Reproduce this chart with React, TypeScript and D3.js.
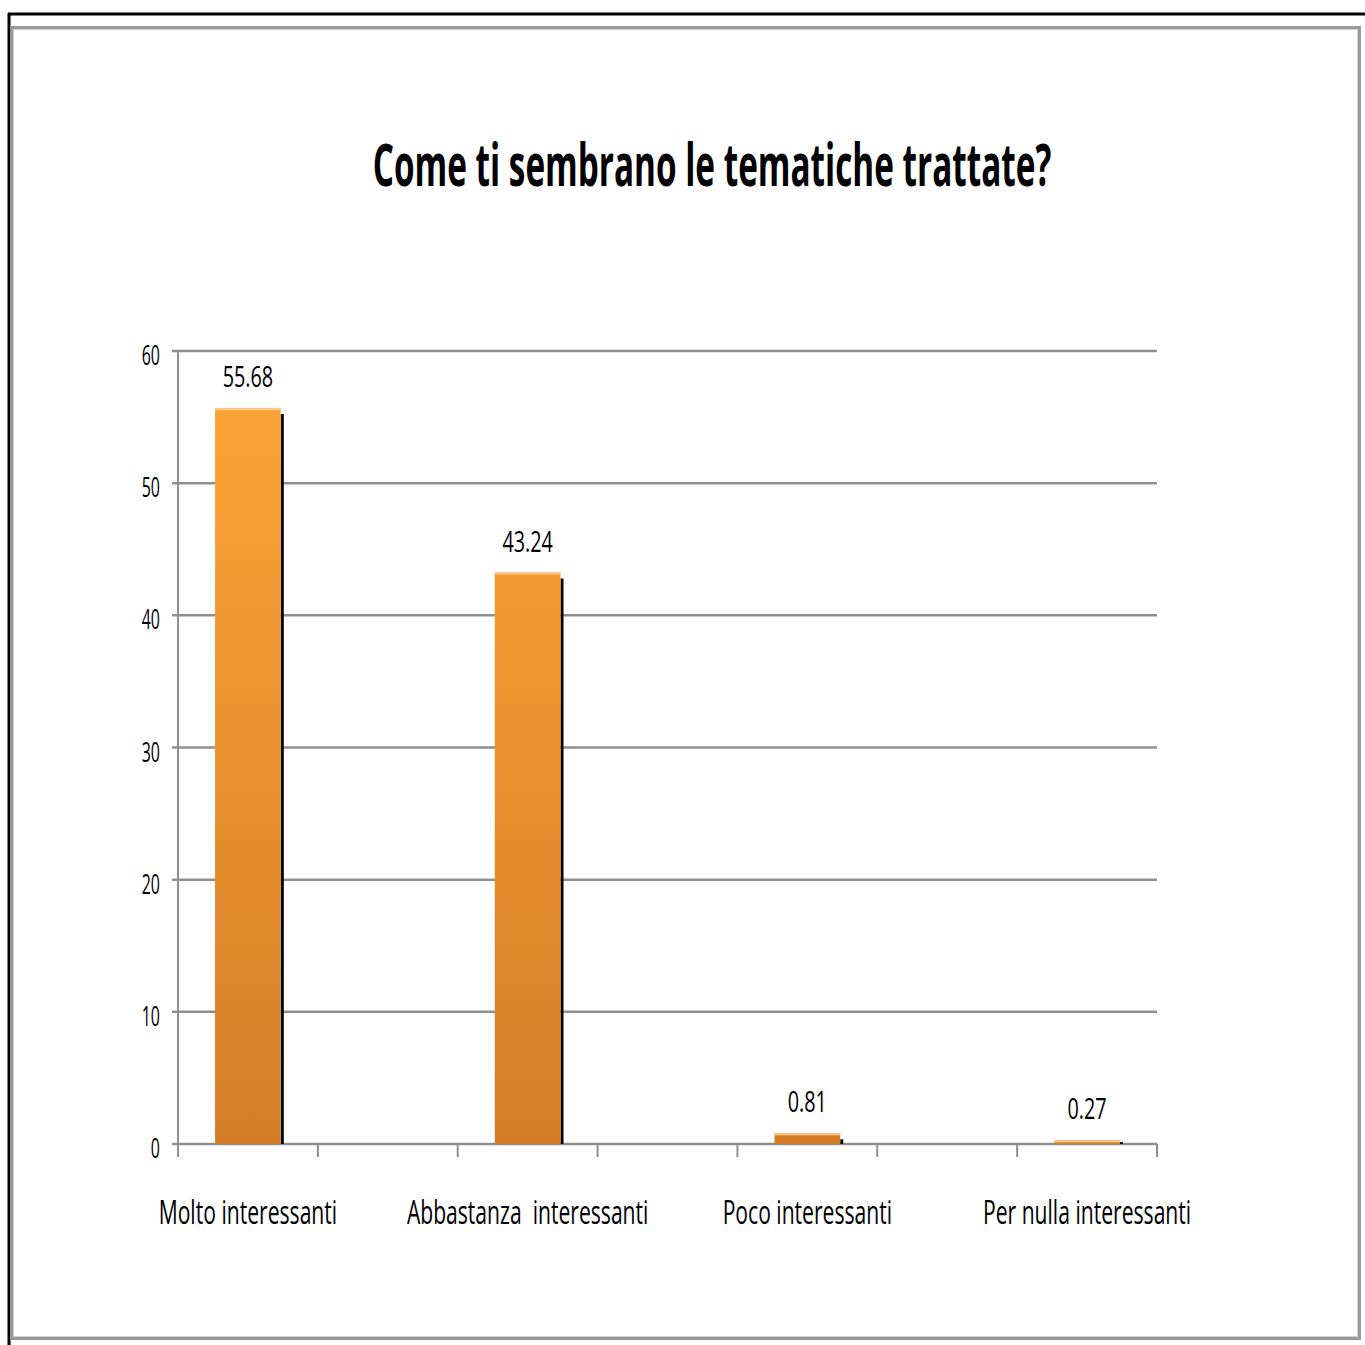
import React from "react";
import * as d3 from "d3";

const title = "Come ti sembrano le tematiche trattate?";
const categories = [
  "Molto interessanti",
  "Abbastanza  interessanti",
  "Poco interessanti",
  "Per nulla interessanti",
];
const values = [55.68, 43.24, 0.81, 0.27];
const yTicks = [0, 10, 20, 30, 40, 50, 60];

const W = 1365;
const H = 1345;
const FONT = "'Open Sans', 'DejaVu Sans', sans-serif";

export default function App() {
  // interleave an empty slot between consecutive categories
  const slots: string[] = [];
  categories.forEach((c, i) => {
    slots.push(c);
    if (i < categories.length - 1) slots.push(`__gap${i}`);
  });

  const x = d3.scaleBand<string>().domain(slots).range([178, 1157]).padding(0);
  const y = d3.scaleLinear().domain([0, 60]).range([1144, 351]);
  const bw = x.bandwidth() * 0.47;
  const fmt = d3.format(".2f");
  const boundaries = slots.map((s) => x(s) as number).concat([x.range()[1]]);

  const gridColor = "#8f8f8f";

  return (
    <svg
      width={W}
      height={H}
      style={{ position: "absolute", left: 0, top: 0, background: "#fff" }}
      xmlns="http://www.w3.org/2000/svg"
    >
      <defs>
        <linearGradient id="barGrad" x1="0" y1="0" x2="0" y2="1" gradientUnits="userSpaceOnUse"
          gradientTransform={`translate(0, ${y(60)}) scale(1, ${y(0) - y(60)})`}>
          <stop offset="0" stopColor="#ffa638" />
          <stop offset="1" stopColor="#d47d27" />
        </linearGradient>
      </defs>

      {/* outer black border (top/left) */}
      <line x1={8} y1={14} x2={W} y2={14} stroke="#000" strokeWidth={3} />
      <line x1={9} y1={13} x2={9} y2={H} stroke="#000" strokeWidth={3} />

      {/* gray frame */}
      <rect x={11.5} y={27.5} width={1348} height={1311} fill="#fff" stroke="#9a9a9a" strokeWidth={3} />
      <rect x={13.5} y={29.5} width={1344} height={1307} fill="none" stroke="#d0d0d0" strokeWidth={1} />

      {/* title */}
      <text
        transform={`translate(712, 186) scale(0.555, 1)`}
        textAnchor="middle"
        fontFamily={FONT}
        fontWeight={700}
        fontSize={60}
        fill="#000"
      >
        {title}
      </text>

      {/* gridlines */}
      {yTicks.map((t) => (
        <line
          key={`g${t}`}
          x1={172}
          x2={1157}
          y1={y(t)}
          y2={y(t)}
          stroke={gridColor}
          strokeWidth={2.5}
        />
      ))}

      {/* y axis */}
      <line x1={178} x2={178} y1={y(60)} y2={1157} stroke={gridColor} strokeWidth={2} />

      {/* x ticks */}
      {boundaries.slice(1).map((bx, i) => (
        <line key={`xt${i}`} x1={bx} x2={bx} y1={y(0)} y2={1157} stroke={gridColor} strokeWidth={2} />
      ))}

      {/* y tick labels */}
      {yTicks.map((t) => (
        <text
          key={`yl${t}`}
          transform={`translate(160, ${y(t) + 14}) scale(0.57, 1)`}
          textAnchor="end"
          fontFamily={FONT}
          fontSize={28}
          fill="#000"
        >
          {t}
        </text>
      ))}

      {/* bars */}
      {categories.map((c, i) => {
        const cx = (x(c) as number) + x.bandwidth() / 2;
        const x0 = cx - bw / 2;
        const top = y(values[i]);
        const h = y(0) - top;
        return (
          <g key={`b${i}`}>
            {/* shadow */}
            <rect
              x={x0 + bw}
              y={Math.min(top + 6, y(0) - 2)}
              width={3}
              height={Math.max(y(0) - (top + 6), 2)}
              fill="#000"
            />
            <rect x={x0} y={top} width={bw} height={h} fill="url(#barGrad)" />
            <rect x={x0} y={top} width={bw} height={Math.min(2, h)} fill="#ffc88a" />
            <text
              transform={`translate(${cx}, ${top - 21}) scale(0.66, 1)`}
              textAnchor="middle"
              fontFamily={FONT}
              fontSize={30}
              fill="#000"
            >
              {fmt(values[i])}
            </text>
            <text
              transform={`translate(${cx}, 1224) scale(0.64, 1)`}
              textAnchor="middle"
              fontFamily={FONT}
              fontSize={33}
              fill="#000"
              style={{ whiteSpace: "pre" }}
            >
              {c}
            </text>
          </g>
        );
      })}
    </svg>
  );
}
